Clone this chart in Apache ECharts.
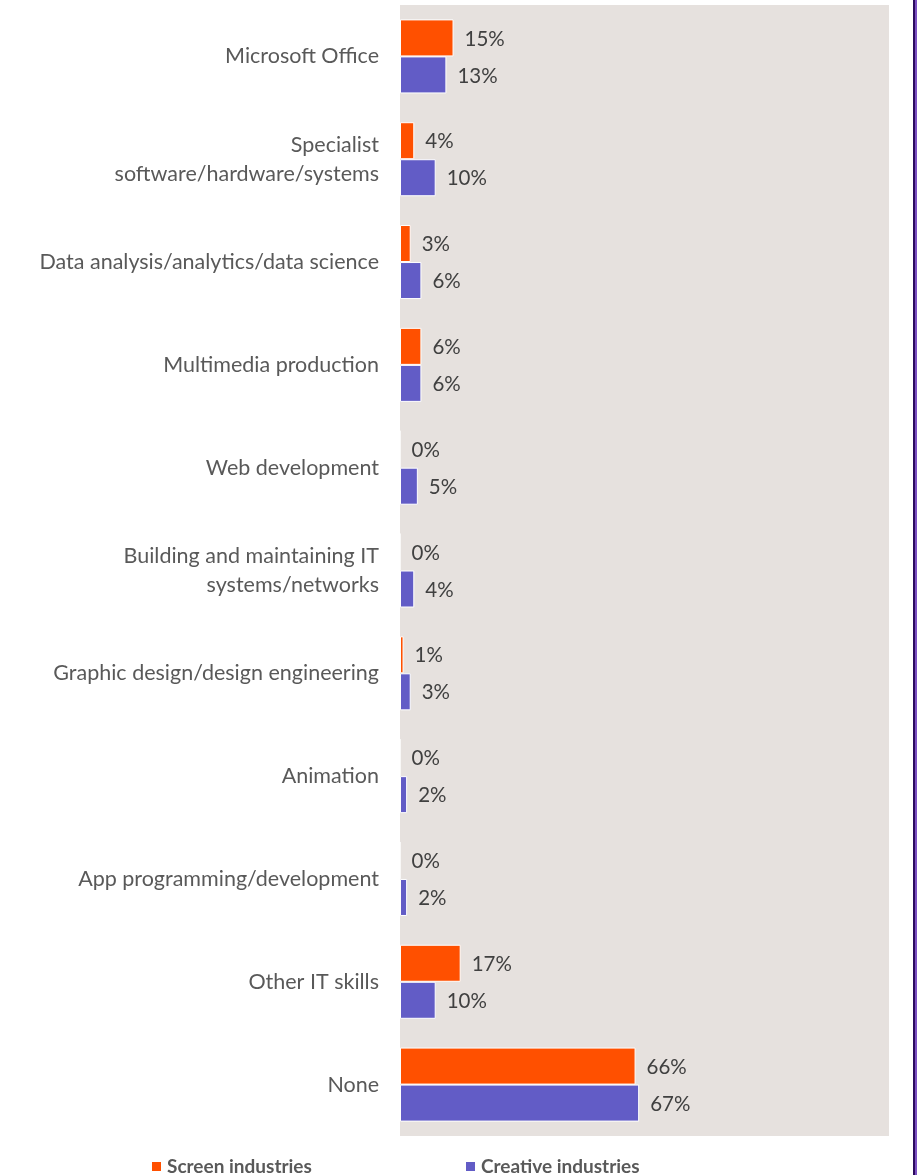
<!DOCTYPE html>
<html>
<head>
<meta charset="utf-8">
<style>
  html, body { margin: 0; padding: 0; background: #ffffff; }
  #chart { width: 917px; height: 1175px; }
</style>
<script src="https://cdn.jsdelivr.net/npm/echarts@6/dist/echarts.min.js"></script>
</head>
<body>
<div id="chart"></div>
<script>
// IT skills categories, top to bottom
const categories = [
  'Microsoft Office',
  'Specialist\nsoftware/hardware/systems',
  'Data analysis/analytics/data science',
  'Multimedia production',
  'Web development',
  'Building and maintaining IT\nsystems/networks',
  'Graphic design/design engineering',
  'Animation',
  'App programming/development',
  'Other IT skills',
  'None'
];
const screenIndustries = [15, 4, 3, 6, 0, 0, 1, 0, 0, 17, 66];
const creativeIndustries = [13, 10, 6, 6, 5, 4, 3, 2, 2, 10, 67];

const FONT = 'Lato, "Noto Sans", sans-serif';
const chart = echarts.init(document.getElementById('chart'), null, { renderer: 'canvas' });

const valueLabel = {
  show: true,
  position: 'right',
  distance: 11,
  offset: [0, 1],
  formatter: p => p.value + '%',
  color: '#404040',
  fontFamily: FONT,
  fontSize: 20.5
};

const legendText = { color: '#595959', fontFamily: FONT, fontSize: 19, fontWeight: 'bold' };

chart.setOption({
  animation: false,
  backgroundColor: '#ffffff',
  grid: {
    left: 400, right: 28, top: 5, bottom: 39,
    show: true, backgroundColor: '#E6E1DE', borderWidth: 0
  },
  xAxis: {
    type: 'value', min: 0, max: 137,
    show: false
  },
  yAxis: {
    type: 'category',
    data: categories,
    inverse: true,
    axisLine: { show: false },
    axisTick: { show: false },
    splitLine: { show: false },
    axisLabel: {
      margin: 21,
      color: '#595959',
      fontFamily: FONT,
      fontSize: 21.5,
      lineHeight: 29,
      align: 'right'
    }
  },
  legend: [
    {
      data: ['Screen industries'],
      left: 150, top: 1157, padding: 0,
      icon: 'rect', itemWidth: 11, itemHeight: 11, itemGap: 5,
      textStyle: legendText
    },
    {
      data: ['Creative industries'],
      left: 464, top: 1157, padding: 0,
      icon: 'rect', itemWidth: 11, itemHeight: 11, itemGap: 5,
      textStyle: legendText
    }
  ],
  series: [
    {
      name: 'Screen industries',
      type: 'bar',
      data: screenIndustries,
      barCategoryGap: '28%',
      barGap: '0%',
      itemStyle: { color: '#FF5000', borderColor: '#ffffff', borderWidth: 1 },
      label: valueLabel
    },
    {
      name: 'Creative industries',
      type: 'bar',
      data: creativeIndustries,
      barCategoryGap: '28%',
      barGap: '0%',
      itemStyle: { color: '#625CC6', borderColor: '#ffffff', borderWidth: 1 },
      label: valueLabel
    }
  ],
  graphic: [
    {
      type: 'rect',
      shape: { x: 913, y: 0, width: 2, height: 1175 },
      style: { fill: '#2B0A5E' }
    },
    {
      type: 'rect',
      shape: { x: 915, y: 0, width: 2, height: 1175 },
      style: { fill: '#7A4FC0' }
    }
  ]
});
</script>
</body>
</html>
